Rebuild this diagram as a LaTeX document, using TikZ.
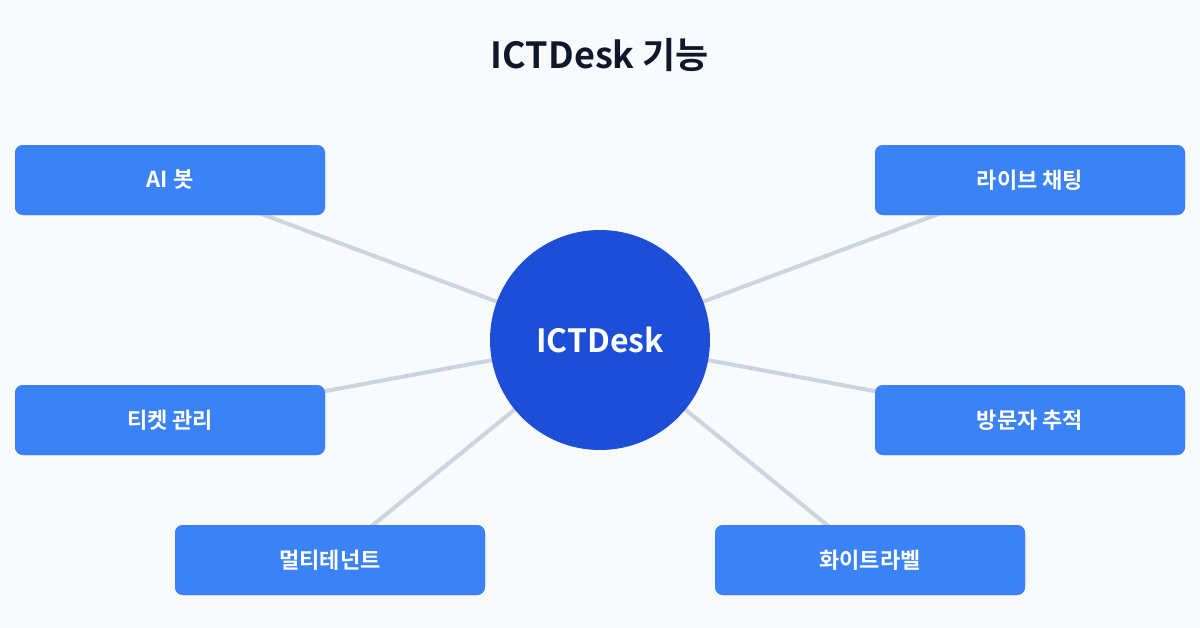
\documentclass[tikz,border=0pt]{standalone}
\usepackage{fontspec}
\setmainfont{Noto Sans CJK KR}[BoldFont={* Bold}]
\definecolor{bg}{HTML}{F8FAFC}
\definecolor{boxc}{HTML}{3B82F6}
\definecolor{circc}{HTML}{1D4ED8}
\definecolor{linec}{HTML}{CBD5E1}
\definecolor{titlec}{HTML}{0F172A}
\begin{document}
\begin{tikzpicture}[x=0.75pt,y=-0.75pt,
  box/.style={fill=boxc,draw=none,rounded corners=6pt,minimum width=232.5pt,minimum height=52.5pt,text=white,font=\bfseries\fontsize{16.5}{20}\selectfont,inner sep=0pt},
  conn/.style={draw=linec,line width=3pt}]
\fill[bg] (0,0) rectangle (1200,628);
\useasboundingbox (0,0) rectangle (1200,628);
\node[font=\bfseries\fontsize{27}{32}\selectfont,text=titlec] (title) at (600,55) {ICTDesk 기능};
\node[box] (ai) at (170,180) {AI 봇};
\node[box] (chat) at (1030,180) {라이브 채팅};
\node[box] (ticket) at (170,420) {티켓 관리};
\node[box] (visit) at (1030,420) {방문자 추적};
\node[box] (multi) at (330,560) {멀티테넌트};
\node[box] (white) at (870,560) {화이트라벨};
\coordinate (c) at (600,340);
\begin{scope}[on background layer/.try]
\end{scope}
\foreach \n in {ai,chat,ticket,visit,multi,white}{\draw[conn] (c) -- (\n.center);}
\foreach \n/\x/\y in {ai/170/180,chat/1030/180,ticket/170/420,visit/1030/420,multi/330/560,white/870/560}{}
\node[box] at (ai) {AI 봇};
\node[box] at (chat) {라이브 채팅};
\node[box] at (ticket) {티켓 관리};
\node[box] at (visit) {방문자 추적};
\node[box] at (multi) {멀티테넌트};
\node[box] at (white) {화이트라벨};
\node[circle,fill=circc,minimum size=165pt,inner sep=0pt,text=white,font=\bfseries\fontsize{24}{28}\selectfont] (hub) at (c) {ICTDesk};
\end{tikzpicture}
\end{document}
